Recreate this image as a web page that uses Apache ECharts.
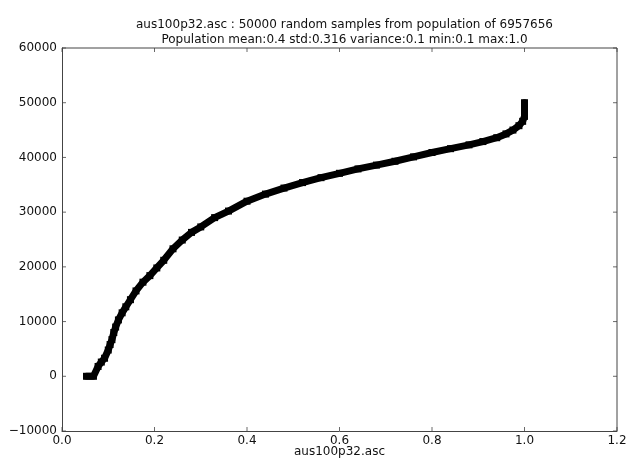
<!DOCTYPE html>
<html>
<head>
<meta charset="utf-8">
<script src="https://cdn.jsdelivr.net/npm/echarts@6/dist/echarts.min.js"></script>
<style>
  html, body { margin: 0; padding: 0; background: #fff; }
  #chart { width: 627px; height: 462px; }
</style>
</head>
<body>
<div id="chart"></div>
<script>
// Sorted sample values (x) against their rank in the sample (y)
const sampleValue = [
  0.053, 0.068, 0.078, 0.085, 0.092, 0.100, 0.104, 0.108, 0.112, 0.116,
  0.122, 0.130, 0.138, 0.148, 0.160, 0.175, 0.190, 0.205, 0.220, 0.240,
  0.260, 0.280, 0.300, 0.330, 0.360, 0.400, 0.440, 0.480, 0.520, 0.560,
  0.600, 0.640, 0.680, 0.720, 0.760, 0.800, 0.840, 0.880, 0.910, 0.940,
  0.960, 0.975, 0.988, 0.996, 1.000, 1.000, 1.000
];
const sampleRank = [
  0, 0, 1800, 2600, 3300, 4800, 5800, 6700, 8000, 9000,
  10300, 11600, 12700, 14000, 15600, 17200, 18400, 19800, 21200, 23300,
  24900, 26300, 27300, 29000, 30200, 32000, 33300, 34400, 35400, 36300,
  37100, 37900, 38600, 39300, 40100, 40900, 41600, 42300, 42900, 43600,
  44300, 45000, 45800, 46600, 47500, 49000, 50000
];

// Tick positions for both axes
const xTicks = [0, 0.2, 0.4, 0.6, 0.8, 1.0, 1.2];
const yTicks = [-10000, 0, 10000, 20000, 30000, 40000, 50000, 60000];

const titleLines = [
  'aus100p32.asc : 50000 random samples from population of 6957656',
  'Population mean:0.4 std:0.316 variance:0.1 min:0.1 max:1.0'
];
const xAxisTitle = 'aus100p32.asc';

const FONT = 'DejaVu Sans';
const frameColor = '#444';
const TICK_LEN = 4;

const points = sampleValue.map((v, i) => [v, sampleRank[i]]);
const minusFmt = v => String(v).replace('-', '\u2212');

const xMin = xTicks[0], xMax = xTicks[xTicks.length - 1];
const yMin = yTicks[0], yMax = yTicks[yTicks.length - 1];

const chart = echarts.init(document.getElementById('chart'), null, { renderer: 'canvas' });

const frameLine = () => ({ show: true, onZero: false, lineStyle: { color: frameColor, width: 1 } });

// Inward tick marks along one side of the frame, drawn as thin rect symbols
function tickSeries(data, size, offset) {
  return {
    type: 'scatter',
    data,
    symbol: 'rect',
    symbolSize: size,
    symbolOffset: offset,
    itemStyle: { color: frameColor },
    silent: true,
    clip: false,
    z: 1
  };
}

chart.setOption({
  animation: false,
  backgroundColor: '#fff',
  title: {
    text: titleLines.join('\n'),
    left: 339.5,
    top: 12,
    textAlign: 'center',
    textStyle: { fontFamily: FONT, fontSize: 12, fontWeight: 'normal', color: '#111', lineHeight: 15 }
  },
  grid: {
    left: 62, right: 10, top: 48, bottom: 31,
    show: false,
    containLabel: false,
    outerBoundsMode: 'none'
  },
  xAxis: {
    type: 'value', min: xMin, max: xMax, interval: 0.2,
    position: 'bottom',
    name: xAxisTitle, nameLocation: 'middle', nameGap: 15,
    nameMoveOverlap: false,
    nameTextStyle: { fontFamily: FONT, fontSize: 12, color: '#111', verticalAlign: 'top' },
    axisLine: frameLine(),
    splitLine: { show: false },
    axisTick: { show: false },
    axisLabel: { fontFamily: FONT, fontSize: 12, color: '#111', margin: 4,
      formatter: v => v.toFixed(1) }
  },
  yAxis: {
    type: 'value', min: yMin, max: yMax, interval: 10000,
    position: 'left',
    axisLine: frameLine(),
    splitLine: { show: false },
    axisTick: { show: false },
    axisLabel: { fontFamily: FONT, fontSize: 12, color: '#111', margin: 5, formatter: minusFmt }
  },
  series: [
    tickSeries(xTicks.map(t => [t, yMin]), [1, TICK_LEN], [0, -TICK_LEN / 2]),
    tickSeries(xTicks.map(t => [t, yMax]), [1, TICK_LEN], [0, TICK_LEN / 2]),
    tickSeries(yTicks.map(t => [xMin, t]), [TICK_LEN, 1], [TICK_LEN / 2, 0]),
    tickSeries(yTicks.map(t => [xMax, t]), [TICK_LEN, 1], [-TICK_LEN / 2, 0]),
    // Top and right edges of the frame
    {
      type: 'line',
      data: [[xMin, yMax], [xMax, yMax], [xMax, yMin]],
      symbol: 'none',
      lineStyle: { color: frameColor, width: 1 },
      silent: true,
      clip: false,
      z: 1
    },
    {
      type: 'line',
      data: points,
      symbol: 'rect',
      symbolSize: 7,
      showAllSymbol: true,
      itemStyle: { color: '#000' },
      lineStyle: { color: '#000', width: 7, join: 'round', cap: 'round' },
      z: 2
    }
  ]
});
</script>
</body>
</html>
